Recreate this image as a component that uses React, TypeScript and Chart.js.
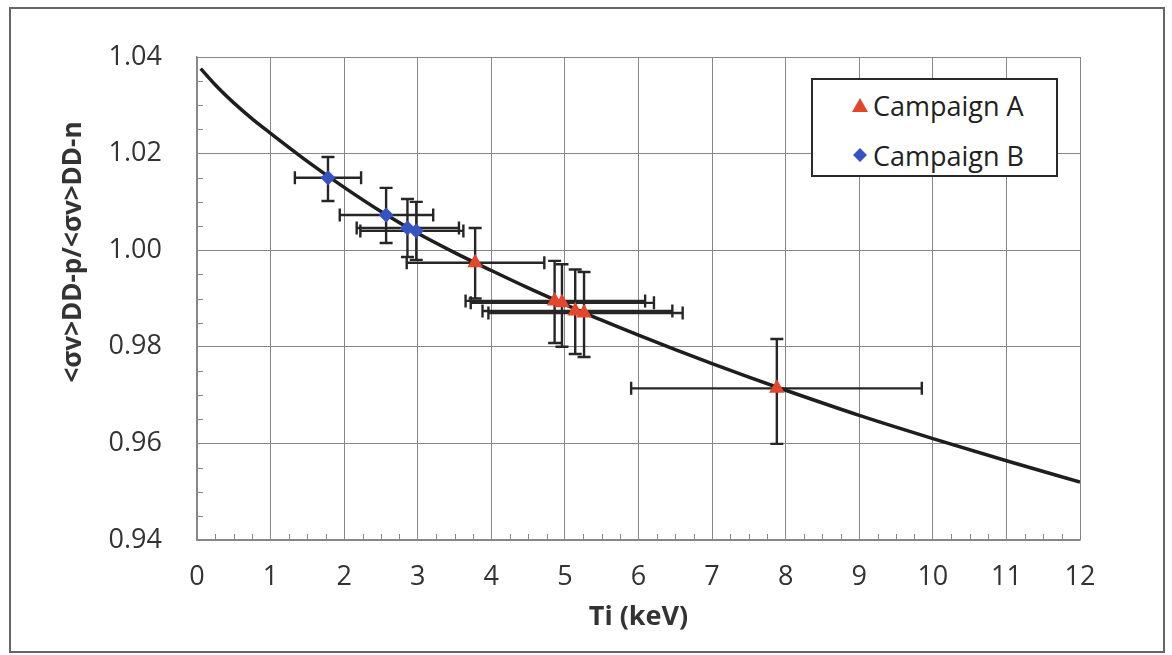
import React, { useEffect, useRef } from 'react';
import { Chart, registerables } from 'chart.js';

Chart.register(...registerables);

// ---------- data ----------
const seriesNames = ['Campaign A', 'Campaign B'];

const campaignAX = [3.78, 4.86, 4.96, 5.14, 5.26, 7.88];
const campaignAY = [0.9974, 0.9895, 0.9891, 0.9874, 0.987, 0.9714];
const campaignAXLow = [2.85, 3.65, 3.72, 3.88, 3.96, 5.9];
const campaignAXHigh = [4.72, 6.09, 6.21, 6.46, 6.6, 9.85];
const campaignAYLow = [0.99, 0.9808, 0.98, 0.9785, 0.9779, 0.9599];
const campaignAYHigh = [1.0046, 0.9978, 0.9971, 0.996, 0.9955, 0.9816];

const campaignBX = [1.78, 2.57, 2.86, 2.98];
const campaignBY = [1.015, 1.0073, 1.0046, 1.004];
const campaignBXLow = [1.33, 1.94, 2.17, 2.22];
const campaignBXHigh = [2.23, 3.21, 3.56, 3.62];
const campaignBYLow = [1.0102, 1.0015, 0.9986, 0.998];
const campaignBYHigh = [1.0193, 1.0129, 1.0106, 1.01];

const curveX = [0.05, 0.25, 0.5, 0.75, 1, 1.5, 2, 2.5, 3, 3.5, 4, 4.5, 5, 5.5, 6, 6.5, 7, 7.5, 8, 9, 10, 11, 12];
const curveY = [1.0376, 1.0342, 1.0305, 1.0272, 1.0242, 1.0184, 1.013, 1.008, 1.0035, 0.9995, 0.9958, 0.9922, 0.9888, 0.9855, 0.9824, 0.9794, 0.9765, 0.9737, 0.971, 0.9658, 0.961, 0.9564, 0.952];

const xTitle = 'Ti (keV)';
const yTitle = '<σv>DD-p/<σv>DD-n';

// ---------- styles ----------
const FONT = "'Open Sans', 'Liberation Sans', sans-serif";
const RED = '#e2472c';
const BLUE = '#3653c4';
const GRID = '#878787';
const TEXT = '#333333';
const ERR = '#262626';

const isMajor = (v: number, step: number) => Math.abs(v / step - Math.round(v / step)) < 1e-6;

const errorBarPlugin = {
  id: 'errorBars',
  beforeDatasetsDraw(chart: any) {
    const { ctx } = chart;
    const xs = chart.scales.x;
    const ys = chart.scales.y;
    const cap = 6.5;
    ctx.save();
    ctx.strokeStyle = ERR;
    ctx.lineWidth = 2.4;
    chart.data.datasets.forEach((ds: any) => {
      const e = ds.errorBars;
      if (!e) return;
      ds.data.forEach((pt: any, j: number) => {
        const px = xs.getPixelForValue(pt.x);
        const py = ys.getPixelForValue(pt.y);
        const xl = xs.getPixelForValue(e.xLow[j]);
        const xh = xs.getPixelForValue(e.xHigh[j]);
        const yl = ys.getPixelForValue(e.yLow[j]);
        const yh = ys.getPixelForValue(e.yHigh[j]);
        ctx.beginPath();
        ctx.moveTo(xl, py); ctx.lineTo(xh, py);
        ctx.moveTo(xl, py - cap); ctx.lineTo(xl, py + cap);
        ctx.moveTo(xh, py - cap); ctx.lineTo(xh, py + cap);
        ctx.moveTo(px, yl); ctx.lineTo(px, yh);
        ctx.moveTo(px - cap, yl); ctx.lineTo(px + cap, yl);
        ctx.moveTo(px - cap, yh); ctx.lineTo(px + cap, yh);
        ctx.stroke();
      });
    });
    ctx.restore();
  },
};

const minorTickPlugin = {
  id: 'minorTicks',
  beforeDatasetsDraw(chart: any) {
    const { ctx, chartArea } = chart;
    const xs = chart.scales.x;
    const ys = chart.scales.y;
    const len = 6;
    ctx.save();
    ctx.strokeStyle = GRID;
    ctx.lineWidth = 1;
    ctx.beginPath();
    xs.ticks.forEach((t: any) => {
      if (isMajor(t.value, 1)) return;
      const px = Math.round(xs.getPixelForValue(t.value)) + 0.5;
      ctx.moveTo(px, chartArea.bottom);
      ctx.lineTo(px, chartArea.bottom - len);
    });
    ys.ticks.forEach((t: any) => {
      if (isMajor(t.value, 0.02)) return;
      const py = Math.round(ys.getPixelForValue(t.value)) + 0.5;
      ctx.moveTo(chartArea.left, py);
      ctx.lineTo(chartArea.left + len, py);
    });
    ctx.stroke();
    ctx.restore();
  },
};

const yTitlePlugin = {
  id: 'yTitle',
  afterDraw(chart: any) {
    const { ctx } = chart;
    ctx.save();
    ctx.translate(81, 252);
    ctx.rotate(-Math.PI / 2);
    ctx.font = `bold 26px ${FONT}`;
    ctx.fillStyle = TEXT;
    ctx.textAlign = 'center';
    ctx.textBaseline = 'alphabetic';
    ctx.fillText(yTitle, 0, 0);
    ctx.restore();
  },
};

function MarkerIcon({ kind }: { kind: 'triangle' | 'diamond' }) {
  if (kind === 'triangle') {
    return (
      <svg width="18" height="16" viewBox="0 0 18 16" style={{ display: 'block' }}>
        <polygon points="9,1 17,15 1,15" fill={RED} />
      </svg>
    );
  }
  return (
    <svg width="16" height="16" viewBox="0 0 16 16" style={{ display: 'block' }}>
      <polygon points="8,1 15,8 8,15 1,8" fill={BLUE} />
    </svg>
  );
}

export default function App() {
  const canvasRef = useRef<HTMLCanvasElement | null>(null);

  useEffect(() => {
    if (!canvasRef.current) return;
    Chart.defaults.font.family = FONT;
    const toPts = (xs: number[], ys: number[]) => xs.map((x, i) => ({ x, y: ys[i] }));

    const chart = new Chart(canvasRef.current, {
      type: 'scatter',
      data: {
        datasets: [
          {
            label: seriesNames[0],
            data: toPts(campaignAX, campaignAY),
            pointStyle: 'triangle',
            pointRadius: 9,
            pointBackgroundColor: RED,
            pointBorderColor: RED,
            pointBorderWidth: 0,
            showLine: false,
            errorBars: { xLow: campaignAXLow, xHigh: campaignAXHigh, yLow: campaignAYLow, yHigh: campaignAYHigh },
          } as any,
          {
            label: seriesNames[1],
            data: toPts(campaignBX, campaignBY),
            pointStyle: 'rectRot',
            pointRadius: 7.5,
            pointBackgroundColor: BLUE,
            pointBorderColor: BLUE,
            pointBorderWidth: 0,
            showLine: false,
            errorBars: { xLow: campaignBXLow, xHigh: campaignBXHigh, yLow: campaignBYLow, yHigh: campaignBYHigh },
          } as any,
          {
            label: 'curve',
            data: toPts(curveX, curveY),
            showLine: true,
            pointRadius: 0,
            borderColor: '#1e1e1e',
            borderWidth: 3.5,
            cubicInterpolationMode: 'monotone',
            fill: false,
          } as any,
        ],
      },
      options: {
        animation: false,
        responsive: false,
        maintainAspectRatio: false,
        layout: { padding: { left: 0, top: 57, right: 92, bottom: 0 } },
        plugins: {
          legend: { display: false },
          tooltip: { enabled: false },
          title: { display: false },
        },
        scales: {
          x: {
            type: 'linear',
            min: 0,
            max: 12,
            afterFit: (s: any) => { s.height = 115; },
            ticks: {
              stepSize: 0.25,
              autoSkip: false,
              maxRotation: 0,
              padding: 21,
              color: TEXT,
              font: { size: 27, family: FONT },
              callback: (v: any) => (isMajor(Number(v), 1) ? String(Math.round(Number(v))) : ''),
            },
            grid: {
              drawTicks: false,
              lineWidth: 1,
              color: (c: any) => (c.tick && isMajor(c.tick.value, 1) ? GRID : 'rgba(0,0,0,0)'),
            },
            border: { color: GRID, width: 1.5 },
            title: {
              display: true,
              text: xTitle,
              color: TEXT,
              font: { size: 27, weight: 'bold', family: FONT },
              padding: { top: 0, bottom: 21 },
            },
          },
          y: {
            type: 'linear',
            min: 0.94,
            max: 1.04,
            afterFit: (s: any) => { s.width = 197; },
            ticks: {
              stepSize: 0.005,
              autoSkip: false,
              padding: 35,
              color: TEXT,
              font: { size: 27, family: FONT },
              callback: (v: any) => (isMajor(Number(v), 0.02) ? Number(v).toFixed(2) : ''),
            },
            grid: {
              drawTicks: false,
              lineWidth: 1,
              color: (c: any) => (c.tick && isMajor(c.tick.value, 0.02) ? GRID : 'rgba(0,0,0,0)'),
            },
            border: { color: GRID, width: 1.5 },
          },
        },
      } as any,
      plugins: [minorTickPlugin, errorBarPlugin, yTitlePlugin],
    });
    return () => chart.destroy();
  }, []);

  const legendItems: { name: string; kind: 'triangle' | 'diamond' }[] = [
    { name: seriesNames[0], kind: 'triangle' },
    { name: seriesNames[1], kind: 'diamond' },
  ];

  return (
    <div style={{ position: 'fixed', left: 0, top: 0, width: 1172, height: 655, background: '#fff', overflow: 'hidden' }}>
      <canvas ref={canvasRef} width={1172} height={655} style={{ position: 'absolute', left: 0, top: 0 }} />
      <div
        style={{
          position: 'absolute', left: 9, top: 7, width: 1156, height: 646,
          border: '2px solid #666', boxSizing: 'border-box', pointerEvents: 'none',
        }}
      />
      <div
        style={{
          position: 'absolute', left: 811, top: 78, width: 247, height: 99,
          border: '2px solid #2a2a2a', boxSizing: 'border-box', background: '#fff',
          fontFamily: FONT, fontSize: 27, color: '#222',
        }}
      >
        {legendItems.map((it, i) => (
          <div
            key={it.name}
            style={{
              position: 'absolute', left: 34, top: 6 + i * 50, height: 38,
              display: 'flex', alignItems: 'center', whiteSpace: 'nowrap', lineHeight: 1,
            }}
          >
            <div style={{ width: 26, display: 'flex', justifyContent: 'center' }}>
              <MarkerIcon kind={it.kind} />
            </div>
            <span>{it.name}</span>
          </div>
        ))}
      </div>
    </div>
  );
}
